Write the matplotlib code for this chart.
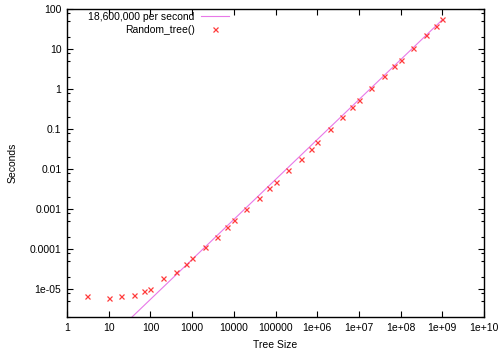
import matplotlib
matplotlib.use("Agg")
import matplotlib.pyplot as plt
import matplotlib.ticker as mticker
import numpy as np

tree_size = [3, 10, 20, 40, 70, 100, 200, 400, 700, 1e3, 2e3, 4e3, 7e3,
             1e4, 2e4, 4e4, 7e4, 1e5, 2e5, 4e5, 7e5, 1e6, 2e6, 4e6, 7e6,
             1e7, 2e7, 4e7, 7e7, 1e8, 2e8, 4e8, 7e8, 1e9]
seconds = [6.7e-6, 6.0e-6, 6.4e-6, 6.8e-6, 8.5e-6, 1.0e-5, 1.9e-5, 2.6e-5,
           4.1e-5, 5.7e-5, 1.08e-4, 2.0e-4, 3.5e-4, 5.3e-4, 1.0e-3, 1.9e-3,
           3.4e-3, 4.8e-3, 9.3e-3, 1.8e-2, 3.1e-2, 4.6e-2, 0.1, 0.2, 0.36,
           0.53, 1.04, 2.1, 3.8, 5.4, 10.8, 22, 38, 55]
rate = 18.6e6  # nodes per second

x_ticks = [1, 10, 100, 1000, 1e4, 1e5, 1e6, 1e7, 1e8, 1e9, 1e10]
x_labels = ["1", "10", "100", "1000", "10000", "100000", "1e+06", "1e+07",
            "1e+08", "1e+09", "1e+10"]
y_ticks = [1e-5, 1e-4, 1e-3, 1e-2, 0.1, 1, 10, 100]
y_labels = ["1e-05", "0.0001", "0.001", "0.01", "0.1", "1", "10", "100"]

plt.rcParams['font.family'] = ['Liberation Sans', 'DejaVu Sans']
plt.rcParams['font.size'] = 7.5

fig = plt.figure(figsize=(5.04, 3.52), dpi=100)
ax = fig.add_axes([67 / 504, 1 - 317 / 352, (484 - 67) / 504, (317 - 9) / 352])

x = np.array(tree_size)
ax.plot(x, x / rate, color='#e878e8', linewidth=0.8, label='18,600,000 per second')
ax.plot(tree_size, seconds, linestyle='none', marker='x', markersize=3.6,
        markeredgewidth=0.9, color='#ff3a3a', label='Random_tree()')

ax.set_xscale('log')
ax.set_yscale('log')
ax.set_xlim(1, 1e10)
ax.set_ylim(1.95e-6, 100)

ax.set_xticks(x_ticks)
ax.set_xticklabels(x_labels)
ax.set_yticks(y_ticks)
ax.set_yticklabels(y_labels)
ax.xaxis.set_minor_locator(mticker.NullLocator())
ax.yaxis.set_minor_locator(mticker.LogLocator(base=10, subs=[2, 5, 8], numticks=20))
ax.yaxis.set_minor_formatter(mticker.NullFormatter())

ax.tick_params(which='both', direction='in', top=True, right=True,
               width=0.8, colors='black')
ax.tick_params(which='major', length=4.5, pad=4)
ax.tick_params(which='minor', length=2.2)
for s in ax.spines.values():
    s.set_linewidth(1.0)

ax.set_xlabel('Tree Size', labelpad=5)
ax.set_ylabel('Seconds', labelpad=9)

ax.legend(loc='upper right', bbox_to_anchor=(229 / 504, 1 - 12 / 352),
          bbox_transform=fig.transFigure, markerfirst=False, frameon=False,
          borderpad=0, borderaxespad=0, handlelength=2.7, handletextpad=0.6,
          labelspacing=0.3)

fig.savefig('out.png', dpi=100)
